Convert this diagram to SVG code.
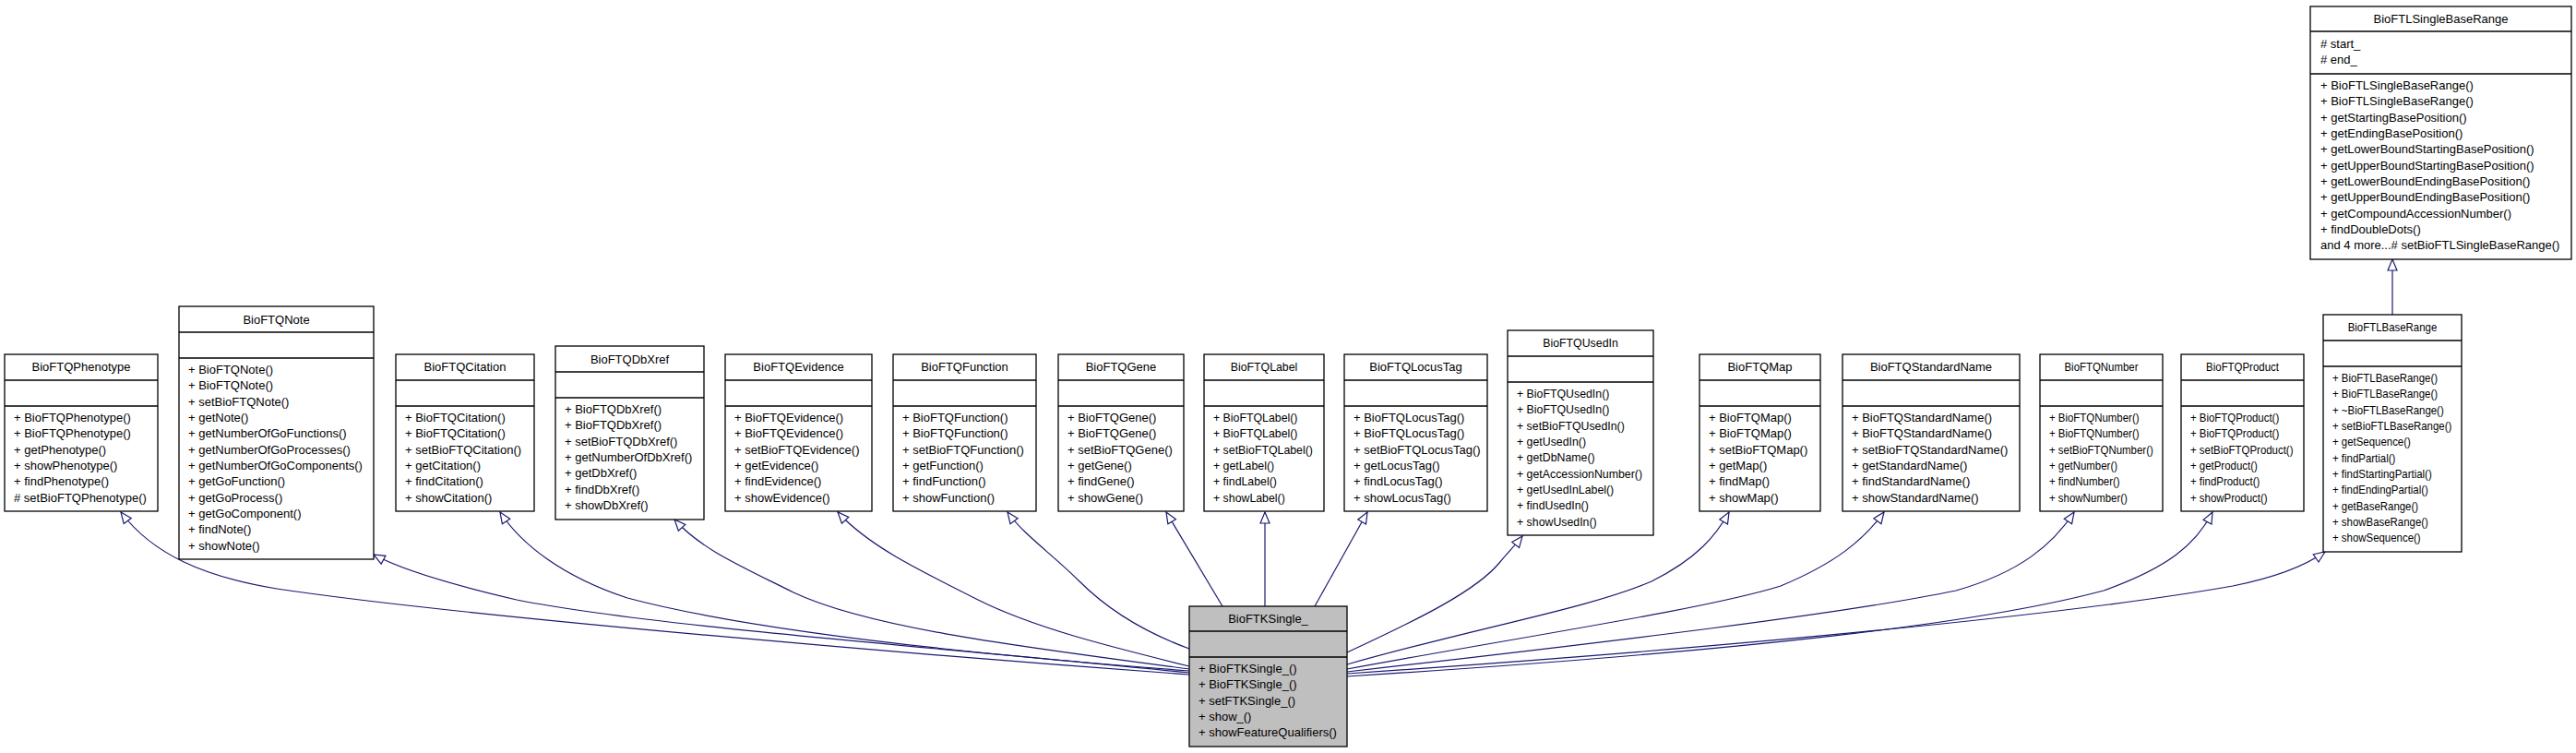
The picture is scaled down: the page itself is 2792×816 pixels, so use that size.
<svg xmlns="http://www.w3.org/2000/svg" width="2792" height="816" viewBox="0 0 2792 816">
<style>
.box{fill:#fff;stroke:#000;stroke-width:1.3}
.cur{fill:#bfbfbf;stroke:#000;stroke-width:1.3}
.sep{stroke:#000;stroke-width:1.3}
.t{font-family:"Liberation Sans",Arial,Helvetica,sans-serif;font-size:13px;fill:#000}
.h{text-anchor:middle}
.e{fill:none;stroke:#191970;stroke-width:1.2}
</style>
<defs>
<marker id="inh" markerWidth="15" markerHeight="12" refX="13" refY="6" orient="auto" markerUnits="userSpaceOnUse" overflow="visible">
<path d="M1,1 L13,6 L1,11 z" fill="#fff" stroke="#191970" stroke-width="1.2"/>
</marker>
</defs>
<rect width="2792" height="816" fill="#fff"/>

<g id="connectors">
<path class="e" marker-end="url(#inh)" d="M1289,731 C1000,710 500,668 300,638 C220,625 165,600 131,555"/>
<path class="e" marker-end="url(#inh)" d="M1289,729 C1000,700 700,678 560,650 C500,636 440,620 405,601"/>
<path class="e" marker-end="url(#inh)" d="M1289,727 C1000,705 800,680 680,648 C610,625 565,590 542,555"/>
<path class="e" marker-end="url(#inh)" d="M1289,725 C1100,700 940,680 860,642 C800,612 760,595 731,563"/>
<path class="e" marker-end="url(#inh)" d="M1289,722 C1200,700 1120,680 1060,650 C990,615 940,590 908,555"/>
<path class="e" marker-end="url(#inh)" d="M1289,703 C1240,685 1200,660 1170,630 C1140,600 1110,580 1092,555"/>
<path class="e" marker-end="url(#inh)" d="M1325,657 L1264,555"/>
<path class="e" marker-end="url(#inh)" d="M1371,657 L1371,555"/>
<path class="e" marker-end="url(#inh)" d="M1425,657 L1482,555"/>
<path class="e" marker-end="url(#inh)" d="M1460,707 C1540,670 1600,640 1625,610 C1635,598 1643,590 1650,581"/>
<path class="e" marker-end="url(#inh)" d="M1460,720 C1600,680 1720,660 1790,630 C1840,605 1860,580 1874,555"/>
<path class="e" marker-end="url(#inh)" d="M1460,725 C1650,690 1850,660 1930,635 C1990,610 2020,585 2042,555"/>
<path class="e" marker-end="url(#inh)" d="M1460,728 C1750,695 2000,665 2120,640 C2190,620 2225,590 2248,555"/>
<path class="e" marker-end="url(#inh)" d="M1460,733 C1900,705 2150,675 2280,640 C2350,615 2380,590 2398,555"/>
<path class="e" marker-end="url(#inh)" d="M1460,730 C1900,700 2250,665 2420,635 C2470,625 2500,612 2520,598"/>
<path class="e" marker-end="url(#inh)" d="M2593,341 L2593,281"/>
</g>

<g id="BioFTQPhenotype">
<rect class="box" x="5" y="384" width="166" height="170"/>
<line class="sep" x1="5" y1="412" x2="171" y2="412"/>
<line class="sep" x1="5" y1="440" x2="171" y2="440"/>
<text class="t h" x="88" y="402">BioFTQPhenotype</text>
<text class="t" x="15" y="457"><tspan x="15">+ BioFTQPhenotype()</tspan><tspan x="15" dy="17.33">+ BioFTQPhenotype()</tspan><tspan x="15" dy="17.33">+ getPhenotype()</tspan><tspan x="15" dy="17.33">+ showPhenotype()</tspan><tspan x="15" dy="17.33">+ findPhenotype()</tspan><tspan x="15" dy="17.33"># setBioFTQPhenotype()</tspan></text>
</g>

<g id="BioFTQNote">
<rect class="box" x="194" y="332" width="211" height="274"/>
<line class="sep" x1="194" y1="360" x2="405" y2="360"/>
<line class="sep" x1="194" y1="388" x2="405" y2="388"/>
<text class="t h" x="299.5" y="350.5">BioFTQNote</text>
<text class="t" x="204" y="405"><tspan x="204">+ BioFTQNote()</tspan><tspan x="204" dy="17.33">+ BioFTQNote()</tspan><tspan x="204" dy="17.33">+ setBioFTQNote()</tspan><tspan x="204" dy="17.33">+ getNote()</tspan><tspan x="204" dy="17.33">+ getNumberOfGoFunctions()</tspan><tspan x="204" dy="17.33">+ getNumberOfGoProcesses()</tspan><tspan x="204" dy="17.33">+ getNumberOfGoComponents()</tspan><tspan x="204" dy="17.33">+ getGoFunction()</tspan><tspan x="204" dy="17.33">+ getGoProcess()</tspan><tspan x="204" dy="17.33">+ getGoComponent()</tspan><tspan x="204" dy="17.33">+ findNote()</tspan><tspan x="204" dy="17.33">+ showNote()</tspan></text>
</g>

<g id="BioFTQCitation">
<rect class="box" x="429" y="384" width="150" height="170"/>
<line class="sep" x1="429" y1="412" x2="579" y2="412"/>
<line class="sep" x1="429" y1="440" x2="579" y2="440"/>
<text class="t h" x="504" y="402">BioFTQCitation</text>
<text class="t" x="439" y="457"><tspan x="439">+ BioFTQCitation()</tspan><tspan x="439" dy="17.33">+ BioFTQCitation()</tspan><tspan x="439" dy="17.33">+ setBioFTQCitation()</tspan><tspan x="439" dy="17.33">+ getCitation()</tspan><tspan x="439" dy="17.33">+ findCitation()</tspan><tspan x="439" dy="17.33">+ showCitation()</tspan></text>
</g>

<g id="BioFTQDbXref">
<rect class="box" x="602" y="375" width="161" height="188"/>
<line class="sep" x1="602" y1="403" x2="763" y2="403"/>
<line class="sep" x1="602" y1="431" x2="763" y2="431"/>
<text class="t h" x="682.5" y="393.5">BioFTQDbXref</text>
<text class="t" x="612" y="448"><tspan x="612">+ BioFTQDbXref()</tspan><tspan x="612" dy="17.33">+ BioFTQDbXref()</tspan><tspan x="612" dy="17.33">+ setBioFTQDbXref()</tspan><tspan x="612" dy="17.33">+ getNumberOfDbXref()</tspan><tspan x="612" dy="17.33">+ getDbXref()</tspan><tspan x="612" dy="17.33">+ findDbXref()</tspan><tspan x="612" dy="17.33">+ showDbXref()</tspan></text>
</g>

<g id="BioFTQEvidence">
<rect class="box" x="786" y="384" width="159" height="170"/>
<line class="sep" x1="786" y1="412" x2="945" y2="412"/>
<line class="sep" x1="786" y1="440" x2="945" y2="440"/>
<text class="t h" x="865.5" y="402">BioFTQEvidence</text>
<text class="t" x="796" y="457"><tspan x="796">+ BioFTQEvidence()</tspan><tspan x="796" dy="17.33">+ BioFTQEvidence()</tspan><tspan x="796" dy="17.33">+ setBioFTQEvidence()</tspan><tspan x="796" dy="17.33">+ getEvidence()</tspan><tspan x="796" dy="17.33">+ findEvidence()</tspan><tspan x="796" dy="17.33">+ showEvidence()</tspan></text>
</g>

<g id="BioFTQFunction">
<rect class="box" x="968" y="384" width="155" height="170"/>
<line class="sep" x1="968" y1="412" x2="1123" y2="412"/>
<line class="sep" x1="968" y1="440" x2="1123" y2="440"/>
<text class="t h" x="1045.5" y="402">BioFTQFunction</text>
<text class="t" x="978" y="457"><tspan x="978">+ BioFTQFunction()</tspan><tspan x="978" dy="17.33">+ BioFTQFunction()</tspan><tspan x="978" dy="17.33">+ setBioFTQFunction()</tspan><tspan x="978" dy="17.33">+ getFunction()</tspan><tspan x="978" dy="17.33">+ findFunction()</tspan><tspan x="978" dy="17.33">+ showFunction()</tspan></text>
</g>

<g id="BioFTQGene">
<rect class="box" x="1147" y="384" width="136" height="170"/>
<line class="sep" x1="1147" y1="412" x2="1283" y2="412"/>
<line class="sep" x1="1147" y1="440" x2="1283" y2="440"/>
<text class="t h" x="1215" y="402">BioFTQGene</text>
<text class="t" x="1157" y="457"><tspan x="1157">+ BioFTQGene()</tspan><tspan x="1157" dy="17.33">+ BioFTQGene()</tspan><tspan x="1157" dy="17.33">+ setBioFTQGene()</tspan><tspan x="1157" dy="17.33">+ getGene()</tspan><tspan x="1157" dy="17.33">+ findGene()</tspan><tspan x="1157" dy="17.33">+ showGene()</tspan></text>
</g>

<g id="BioFTQLabel">
<rect class="box" x="1305" y="384" width="130" height="170"/>
<line class="sep" x1="1305" y1="412" x2="1435" y2="412"/>
<line class="sep" x1="1305" y1="440" x2="1435" y2="440"/>
<g transform="translate(1370,0) scale(0.95,1)"><text class="t h" x="0" y="402">BioFTQLabel</text></g>
<g transform="translate(1315,0) scale(0.95,1)"><text class="t" x="0" y="457"><tspan x="0">+ BioFTQLabel()</tspan><tspan x="0" dy="17.33">+ BioFTQLabel()</tspan><tspan x="0" dy="17.33">+ setBioFTQLabel()</tspan><tspan x="0" dy="17.33">+ getLabel()</tspan><tspan x="0" dy="17.33">+ findLabel()</tspan><tspan x="0" dy="17.33">+ showLabel()</tspan></text></g>
</g>

<g id="BioFTQLocusTag">
<rect class="box" x="1457" y="384" width="155" height="170"/>
<line class="sep" x1="1457" y1="412" x2="1612" y2="412"/>
<line class="sep" x1="1457" y1="440" x2="1612" y2="440"/>
<text class="t h" x="1534.5" y="402">BioFTQLocusTag</text>
<text class="t" x="1467" y="457"><tspan x="1467">+ BioFTQLocusTag()</tspan><tspan x="1467" dy="17.33">+ BioFTQLocusTag()</tspan><tspan x="1467" dy="17.33">+ setBioFTQLocusTag()</tspan><tspan x="1467" dy="17.33">+ getLocusTag()</tspan><tspan x="1467" dy="17.33">+ findLocusTag()</tspan><tspan x="1467" dy="17.33">+ showLocusTag()</tspan></text>
</g>

<g id="BioFTQUsedIn">
<rect class="box" x="1634" y="358" width="158" height="222"/>
<line class="sep" x1="1634" y1="386" x2="1792" y2="386"/>
<line class="sep" x1="1634" y1="414" x2="1792" y2="414"/>
<g transform="translate(1713,0) scale(0.95,1)"><text class="t h" x="0" y="376.5">BioFTQUsedIn</text></g>
<g transform="translate(1644,0) scale(0.95,1)"><text class="t" x="0" y="431"><tspan x="0">+ BioFTQUsedIn()</tspan><tspan x="0" dy="17.33">+ BioFTQUsedIn()</tspan><tspan x="0" dy="17.33">+ setBioFTQUsedIn()</tspan><tspan x="0" dy="17.33">+ getUsedIn()</tspan><tspan x="0" dy="17.33">+ getDbName()</tspan><tspan x="0" dy="17.33">+ getAccessionNumber()</tspan><tspan x="0" dy="17.33">+ getUsedInLabel()</tspan><tspan x="0" dy="17.33">+ findUsedIn()</tspan><tspan x="0" dy="17.33">+ showUsedIn()</tspan></text></g>
</g>

<g id="BioFTQMap">
<rect class="box" x="1842" y="384" width="131" height="170"/>
<line class="sep" x1="1842" y1="412" x2="1973" y2="412"/>
<line class="sep" x1="1842" y1="440" x2="1973" y2="440"/>
<text class="t h" x="1907.5" y="402">BioFTQMap</text>
<text class="t" x="1852" y="457"><tspan x="1852">+ BioFTQMap()</tspan><tspan x="1852" dy="17.33">+ BioFTQMap()</tspan><tspan x="1852" dy="17.33">+ setBioFTQMap()</tspan><tspan x="1852" dy="17.33">+ getMap()</tspan><tspan x="1852" dy="17.33">+ findMap()</tspan><tspan x="1852" dy="17.33">+ showMap()</tspan></text>
</g>

<g id="BioFTQStandardName">
<rect class="box" x="1997" y="384" width="192" height="170"/>
<line class="sep" x1="1997" y1="412" x2="2189" y2="412"/>
<line class="sep" x1="1997" y1="440" x2="2189" y2="440"/>
<text class="t h" x="2093" y="402">BioFTQStandardName</text>
<text class="t" x="2007" y="457"><tspan x="2007">+ BioFTQStandardName()</tspan><tspan x="2007" dy="17.33">+ BioFTQStandardName()</tspan><tspan x="2007" dy="17.33">+ setBioFTQStandardName()</tspan><tspan x="2007" dy="17.33">+ getStandardName()</tspan><tspan x="2007" dy="17.33">+ findStandardName()</tspan><tspan x="2007" dy="17.33">+ showStandardName()</tspan></text>
</g>

<g id="BioFTQNumber">
<rect class="box" x="2211" y="384" width="133" height="170"/>
<line class="sep" x1="2211" y1="412" x2="2344" y2="412"/>
<line class="sep" x1="2211" y1="440" x2="2344" y2="440"/>
<g transform="translate(2277.5,0) scale(0.88,1)"><text class="t h" x="0" y="402">BioFTQNumber</text></g>
<g transform="translate(2221,0) scale(0.88,1)"><text class="t" x="0" y="457"><tspan x="0">+ BioFTQNumber()</tspan><tspan x="0" dy="17.33">+ BioFTQNumber()</tspan><tspan x="0" dy="17.33">+ setBioFTQNumber()</tspan><tspan x="0" dy="17.33">+ getNumber()</tspan><tspan x="0" dy="17.33">+ findNumber()</tspan><tspan x="0" dy="17.33">+ showNumber()</tspan></text></g>
</g>

<g id="BioFTQProduct">
<rect class="box" x="2364" y="384" width="133" height="170"/>
<line class="sep" x1="2364" y1="412" x2="2497" y2="412"/>
<line class="sep" x1="2364" y1="440" x2="2497" y2="440"/>
<g transform="translate(2430.5,0) scale(0.88,1)"><text class="t h" x="0" y="402">BioFTQProduct</text></g>
<g transform="translate(2374,0) scale(0.88,1)"><text class="t" x="0" y="457"><tspan x="0">+ BioFTQProduct()</tspan><tspan x="0" dy="17.33">+ BioFTQProduct()</tspan><tspan x="0" dy="17.33">+ setBioFTQProduct()</tspan><tspan x="0" dy="17.33">+ getProduct()</tspan><tspan x="0" dy="17.33">+ findProduct()</tspan><tspan x="0" dy="17.33">+ showProduct()</tspan></text></g>
</g>

<g id="BioFTLBaseRange">
<rect class="box" x="2518" y="341" width="150" height="257"/>
<line class="sep" x1="2518" y1="369" x2="2668" y2="369"/>
<line class="sep" x1="2518" y1="397" x2="2668" y2="397"/>
<g transform="translate(2593,0) scale(0.88,1)"><text class="t h" x="0" y="359.5">BioFTLBaseRange</text></g>
<g transform="translate(2528,0) scale(0.88,1)"><text class="t" x="0" y="414"><tspan x="0">+ BioFTLBaseRange()</tspan><tspan x="0" dy="17.33">+ BioFTLBaseRange()</tspan><tspan x="0" dy="17.33">+ ~BioFTLBaseRange()</tspan><tspan x="0" dy="17.33">+ setBioFTLBaseRange()</tspan><tspan x="0" dy="17.33">+ getSequence()</tspan><tspan x="0" dy="17.33">+ findPartial()</tspan><tspan x="0" dy="17.33">+ findStartingPartial()</tspan><tspan x="0" dy="17.33">+ findEndingPartial()</tspan><tspan x="0" dy="17.33">+ getBaseRange()</tspan><tspan x="0" dy="17.33">+ showBaseRange()</tspan><tspan x="0" dy="17.33">+ showSequence()</tspan></text></g>
</g>

<g id="BioFTLSingleBaseRange">
<rect class="box" x="2504" y="7" width="283" height="274"/>
<line class="sep" x1="2504" y1="34" x2="2787" y2="34"/>
<line class="sep" x1="2504" y1="80" x2="2787" y2="80"/>
<text class="t h" x="2645.5" y="25">BioFTLSingleBaseRange</text>
<text class="t" x="2515" y="52"><tspan x="2515"># start_</tspan><tspan x="2515" dy="17.33"># end_</tspan></text>
<text class="t" x="2515" y="97"><tspan x="2515">+ BioFTLSingleBaseRange()</tspan><tspan x="2515" dy="17.33">+ BioFTLSingleBaseRange()</tspan><tspan x="2515" dy="17.33">+ getStartingBasePosition()</tspan><tspan x="2515" dy="17.33">+ getEndingBasePosition()</tspan><tspan x="2515" dy="17.33">+ getLowerBoundStartingBasePosition()</tspan><tspan x="2515" dy="17.33">+ getUpperBoundStartingBasePosition()</tspan><tspan x="2515" dy="17.33">+ getLowerBoundEndingBasePosition()</tspan><tspan x="2515" dy="17.33">+ getUpperBoundEndingBasePosition()</tspan><tspan x="2515" dy="17.33">+ getCompoundAccessionNumber()</tspan><tspan x="2515" dy="17.33">+ findDoubleDots()</tspan><tspan x="2515" dy="17.33">and 4 more...# setBioFTLSingleBaseRange()</tspan></text>
</g>

<g id="BioFTKSingle_">
<rect class="cur" x="1289" y="657" width="171" height="152"/>
<line class="sep" x1="1289" y1="684" x2="1460" y2="684"/>
<line class="sep" x1="1289" y1="712" x2="1460" y2="712"/>
<text class="t h" x="1374.5" y="675">BioFTKSingle_</text>
<text class="t" x="1299" y="729"><tspan x="1299">+ BioFTKSingle_()</tspan><tspan x="1299" dy="17.33">+ BioFTKSingle_()</tspan><tspan x="1299" dy="17.33">+ setFTKSingle_()</tspan><tspan x="1299" dy="17.33">+ show_()</tspan><tspan x="1299" dy="17.33">+ showFeatureQualifiers()</tspan></text>
</g>
</svg>
